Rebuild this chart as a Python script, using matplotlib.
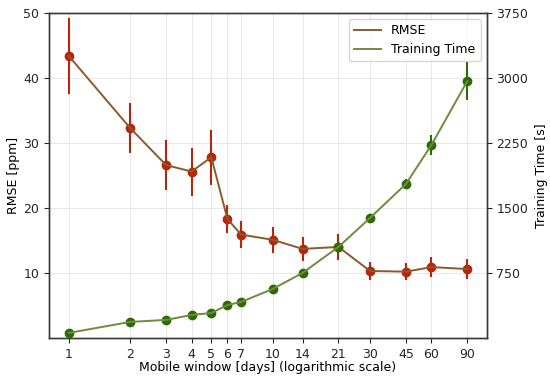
import matplotlib
matplotlib.use('Agg')
import matplotlib.pyplot as plt
import numpy as np

# mobile window sizes in days
days = [1, 2, 3, 4, 5, 6, 7, 10, 14, 21, 30, 45, 60, 90]

# RMSE [ppm] with error bars
rmse = [43.4, 32.3, 26.6, 25.6, 27.8, 18.3, 15.9, 15.1, 13.7, 14.0, 10.3, 10.2, 10.9, 10.6]
rmse_err = [5.9, 3.9, 3.8, 3.7, 4.2, 2.1, 2.1, 2.0, 1.9, 2.0, 1.4, 1.3, 1.5, 1.5]

# training time [s] with error bars
ttime = [58, 185, 208, 265, 288, 380, 415, 565, 750, 1050, 1385, 1777, 2227, 2965]
ttime_err = [0, 0, 0, 0, 0, 0, 0, 0, 0, 0, 0, 60, 115, 220]

brown = '#8b5a2b'
red = '#b5260c'
olive = '#6d8c3c'
dgreen = '#2b6a06'
spine_c = '#3a3a3a'

plt.rcParams['font.size'] = 9
fig = plt.figure(figsize=(5.5, 3.81), dpi=100)
ax1 = fig.add_axes([0.089, 0.113, 0.796, 0.853])
ax2 = ax1.twinx()

ax1.errorbar(days, rmse, yerr=rmse_err, fmt='o', color=red, ecolor=red,
             markersize=6, elinewidth=1.5, capsize=0, zorder=3)
l1, = ax1.plot(days, rmse, color=brown, lw=1.4, zorder=4, label='RMSE')

ax2.errorbar(days, ttime, yerr=ttime_err, fmt='o', color=dgreen, ecolor=dgreen,
             markersize=6, elinewidth=1.5, capsize=0, zorder=3)
l2, = ax2.plot(days, ttime, color=olive, lw=1.4, zorder=4, label='Training Time')

ax1.set_xscale('log')
ax1.set_xlim(0.8, 112)
ax1.set_xticks(days)
ax1.set_xticklabels([str(d) for d in days])
ax1.xaxis.set_minor_locator(matplotlib.ticker.NullLocator())

ax1.set_ylim(0, 50)
ax1.set_yticks([10, 20, 30, 40, 50])
ax2.set_ylim(0, 3750)
ax2.set_yticks([750, 1500, 2250, 3000, 3750])

ax1.grid(True, color='#e8e8e8', lw=0.7)
ax1.set_axisbelow(True)

for ax in (ax1, ax2):
    for s in ax.spines.values():
        s.set_color(spine_c)
        s.set_linewidth(1.0)
    ax.tick_params(colors='#262626', length=3.5, width=0.8, labelsize=9)

ax1.set_xlabel('Mobile window [days] (logarithmic scale)', labelpad=0)
ax1.set_ylabel('RMSE [ppm]', labelpad=2)
ax2.set_ylabel('Training Time [s]', labelpad=5)

leg = ax2.legend(handles=[l1, l2], loc='upper right', fontsize=9,
                 frameon=True, borderaxespad=0.5, handlelength=2.2)
leg.get_frame().set_edgecolor('#cccccc')

fig.savefig('out.png', dpi=100)
